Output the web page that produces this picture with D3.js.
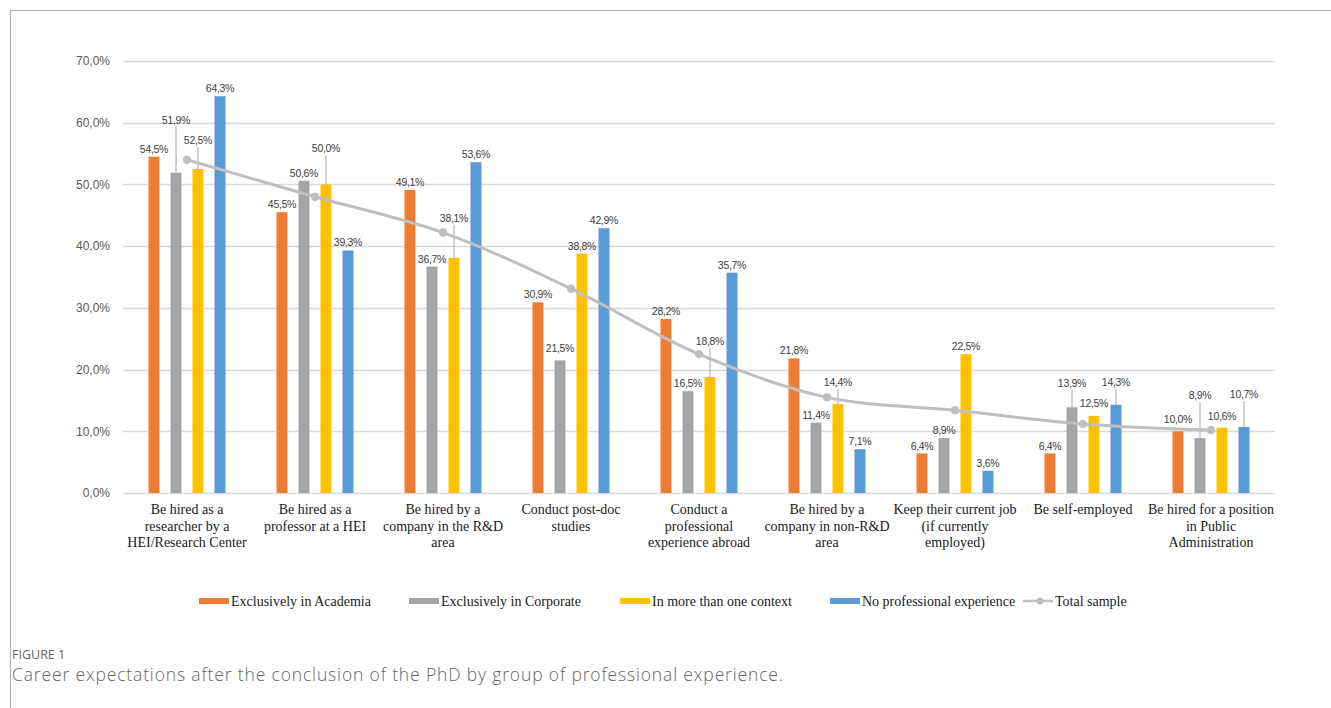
<!DOCTYPE html>
<html>
<head>
<meta charset="utf-8">
<script src="https://cdn.jsdelivr.net/npm/d3@7"></script>
<style>
	body { margin: 0; background: #fff; }
	svg { display: block; }
</style>
</head>
<body>
<script>
// chart values
var categories = [
	["Be hired as a", "researcher by a", "HEI/Research Center"],
	["Be hired as a", "professor at a HEI"],
	["Be hired by a", "company in the R&D", "area"],
	["Conduct post-doc", "studies"],
	["Conduct a", "professional", "experience abroad"],
	["Be hired by a", "company in non-R&D", "area"],
	["Keep their current job", "(if currently", "employed)"],
	["Be self-employed"],
	["Be hired for a position", "in Public", "Administration"]
];
var seriesNames = ["Exclusively in Academia", "Exclusively in Corporate", "In more than one context", "No professional experience"];
var academia = [54.5, 45.5, 49.1, 30.9, 28.2, 21.8, 6.4, 6.4, 10.0];
var corporate = [51.9, 50.6, 36.7, 21.5, 16.5, 11.4, 8.9, 13.9, 8.9];
var moreContexts = [52.5, 50.0, 38.1, 38.8, 18.8, 14.4, 22.5, 12.5, 10.6];
var noExperience = [64.3, 39.3, 53.6, 42.9, 35.7, 7.1, 3.6, 14.3, 10.7];
var totalName = "Total sample";
var totalSample = [54.0, 48.0, 42.2, 33.1, 22.5, 15.5, 13.4, 11.2, 10.2];
var yTicks = [0, 10, 20, 30, 40, 50, 60, 70];

var colors = ["#ED7D31", "#A5A5A5", "#FFC000", "#5B9BD5"];
var allSeries = [academia, corporate, moreContexts, noExperience];

// labels that were pushed up (px) to avoid overlaps, with a leader line
var lifts = {"0-1": 45, "0-2": 21, "1-2": 28, "2-2": 32, "4-2": 28, "5-2": 14,
	"7-1": 16, "7-3": 15, "8-1": 35, "8-3": 25, "7-2": 5, "8-0": 4, "8-2": 4, "3-1": 4};

var W = 1331, H = 708;
var margin = {top: 61, left: 123, right: 56, bottom: 215};
var width = W - margin.left - margin.right;
var height = H - margin.top - margin.bottom;

var serif = "'Liberation Serif', 'Times New Roman', serif";

var svg = d3.select("body").append("svg")
	.attr("width", W)
	.attr("height", H);

// outer frame of the figure
svg.append("path")
	.attr("d", "M10.5," + H + " L10.5,10.5 L" + W + ",10.5")
	.attr("fill", "none")
	.attr("stroke", "#b4b4b4")
	.attr("stroke-width", 1.2);

var g = svg.append("g")
	.attr("transform", "translate(" + margin.left + "," + margin.top + ")");

var x0 = d3.scaleBand()
	.domain(d3.range(categories.length))
	.range([0, width]);

var x1 = d3.scaleBand()
	.domain(d3.range(seriesNames.length))
	.range([0, x0.bandwidth()])
	.paddingInner(0.5)
	.paddingOuter(1.16);

var y = d3.scaleLinear()
	.domain([0, 70])
	.range([height, 0]);

//grid lines
g.append("g")
	.selectAll("line")
	.data(yTicks)
	.enter().append("line")
	.attr("x1", 0)
	.attr("x2", width)
	.attr("y1", function(d) { return Math.round(y(d)) + 0.5; })
	.attr("y2", function(d) { return Math.round(y(d)) + 0.5; })
	.attr("stroke", "#d9d9d9")
	.attr("stroke-width", 1.3);

var yAxis = g.append("g")
	.call(d3.axisLeft(y).tickValues(yTicks).tickSize(0).tickPadding(13)
		.tickFormat(function(d) { return d3.format(".1f")(d).replace(".", ",") + "%"; }));
yAxis.select(".domain").remove();
yAxis.selectAll("text")
	.attr("fill", "#595959")
	.style("font-family", "'Liberation Sans', Arial, sans-serif")
	.style("font-size", "12px");

// bars
var groups = g.selectAll(".group")
	.data(categories)
	.enter().append("g")
	.attr("class", "group")
	.attr("transform", function(d, i) { return "translate(" + x0(i) + ",0)"; });

groups.selectAll("rect")
	.data(function(d, i) {
		return allSeries.map(function(s, k) { return {cat: i, s: k, v: s[i]}; });
	})
	.enter().append("rect")
	.attr("x", function(d) { return x1(d.s); })
	.attr("y", function(d) { return y(d.v); })
	.attr("width", x1.bandwidth())
	.attr("height", function(d) { return height - y(d.v); })
	.attr("fill", function(d) { return colors[d.s]; });

// total sample line
var line = d3.line()
	.x(function(d, i) { return x0(i) + x0.bandwidth() / 2; })
	.y(function(d) { return y(d); })
	.curve(d3.curveCatmullRom.alpha(0.5));

g.append("path")
	.datum(totalSample)
	.attr("d", line)
	.attr("fill", "none")
	.attr("stroke", "#BFBFBF")
	.attr("stroke-width", 3);

g.selectAll(".dot")
	.data(totalSample)
	.enter().append("circle")
	.attr("class", "dot")
	.attr("cx", function(d, i) { return x0(i) + x0.bandwidth() / 2; })
	.attr("cy", function(d) { return y(d); })
	.attr("r", 4.2)
	.attr("fill", "#BFBFBF");

// data labels
var labels = groups.selectAll(".lbl")
	.data(function(d, i) {
		return allSeries.map(function(s, k) { return {cat: i, s: k, v: s[i]}; });
	})
	.enter();

labels.filter(function(d) { return (lifts[d.cat + "-" + d.s] || 0) > 10; })
	.append("line")
	.attr("x1", function(d) { return x1(d.s) + x1.bandwidth() / 2; })
	.attr("x2", function(d) { return x1(d.s) + x1.bandwidth() / 2; })
	.attr("y1", function(d) { return y(d.v) - 4 - lifts[d.cat + "-" + d.s] + 3; })
	.attr("y2", function(d) { return y(d.v); })
	.attr("stroke", "#a6a6a6")
	.attr("stroke-width", 1);

labels.append("text")
	.attr("x", function(d) { return x1(d.s) + x1.bandwidth() / 2; })
	.attr("y", function(d) { return y(d.v) - 4 - (lifts[d.cat + "-" + d.s] || 0); })
	.attr("text-anchor", "middle")
	.attr("fill", "#404040")
	.style("font-family", "'Liberation Sans', Arial, sans-serif")
	.style("font-size", "10.5px")
	.style("letter-spacing", "-0.3px")
	.text(function(d) { return d3.format(".1f")(d.v).replace(".", ",") + "%"; });

// category labels
groups.append("text")
	.attr("transform", function() { return "translate(" + x0.bandwidth() / 2 + "," + (height + 21) + ")"; })
	.attr("text-anchor", "middle")
	.attr("fill", "#1a1a1a")
	.style("font-family", serif)
	.style("font-size", "14px")
	.selectAll("tspan")
	.data(function(d) { return d; })
	.enter().append("tspan")
	.attr("x", 0)
	.attr("dy", function(d, i) { return i == 0 ? 0 : 16.5; })
	.text(function(d) { return d; });

// legend
var legendX = [199, 409, 620, 830];
var legend = svg.append("g").attr("transform", "translate(0,601)");
seriesNames.forEach(function(name, i) {
	legend.append("rect")
		.attr("x", legendX[i])
		.attr("y", -3)
		.attr("width", 30)
		.attr("height", 6)
		.attr("fill", colors[i]);
	legend.append("text")
		.attr("x", legendX[i] + 32)
		.attr("y", 5)
		.attr("fill", "#1a1a1a")
		.style("font-family", serif)
		.style("font-size", "14px")
		.text(name);
});
legend.append("line")
	.attr("x1", 1023).attr("x2", 1053)
	.attr("y1", 0).attr("y2", 0)
	.attr("stroke", "#BFBFBF")
	.attr("stroke-width", 2.5);
legend.append("circle")
	.attr("cx", 1040).attr("cy", 0).attr("r", 3.5)
	.attr("fill", "#BFBFBF");
legend.append("text")
	.attr("x", 1055)
	.attr("y", 5)
	.attr("fill", "#1a1a1a")
	.style("font-family", serif)
	.style("font-size", "14px")
	.text(totalName);

// caption
svg.append("text")
	.attr("x", 12)
	.attr("y", 659)
	.attr("fill", "#666")
	.style("font-family", "'Open Sans', sans-serif")
	.style("font-size", "12.5px")
	.text("FIGURE 1");
svg.append("text")
	.attr("x", 12)
	.attr("y", 681)
	.attr("fill", "#666")
	.attr("textLength", 771)
	.attr("lengthAdjust", "spacing")
	.style("font-family", "'Open Sans', sans-serif")
	.style("font-weight", 300)
	.style("font-size", "17.5px")
	.text("Career expectations after the conclusion of the PhD by group of professional experience.");
</script>
</body>
</html>
